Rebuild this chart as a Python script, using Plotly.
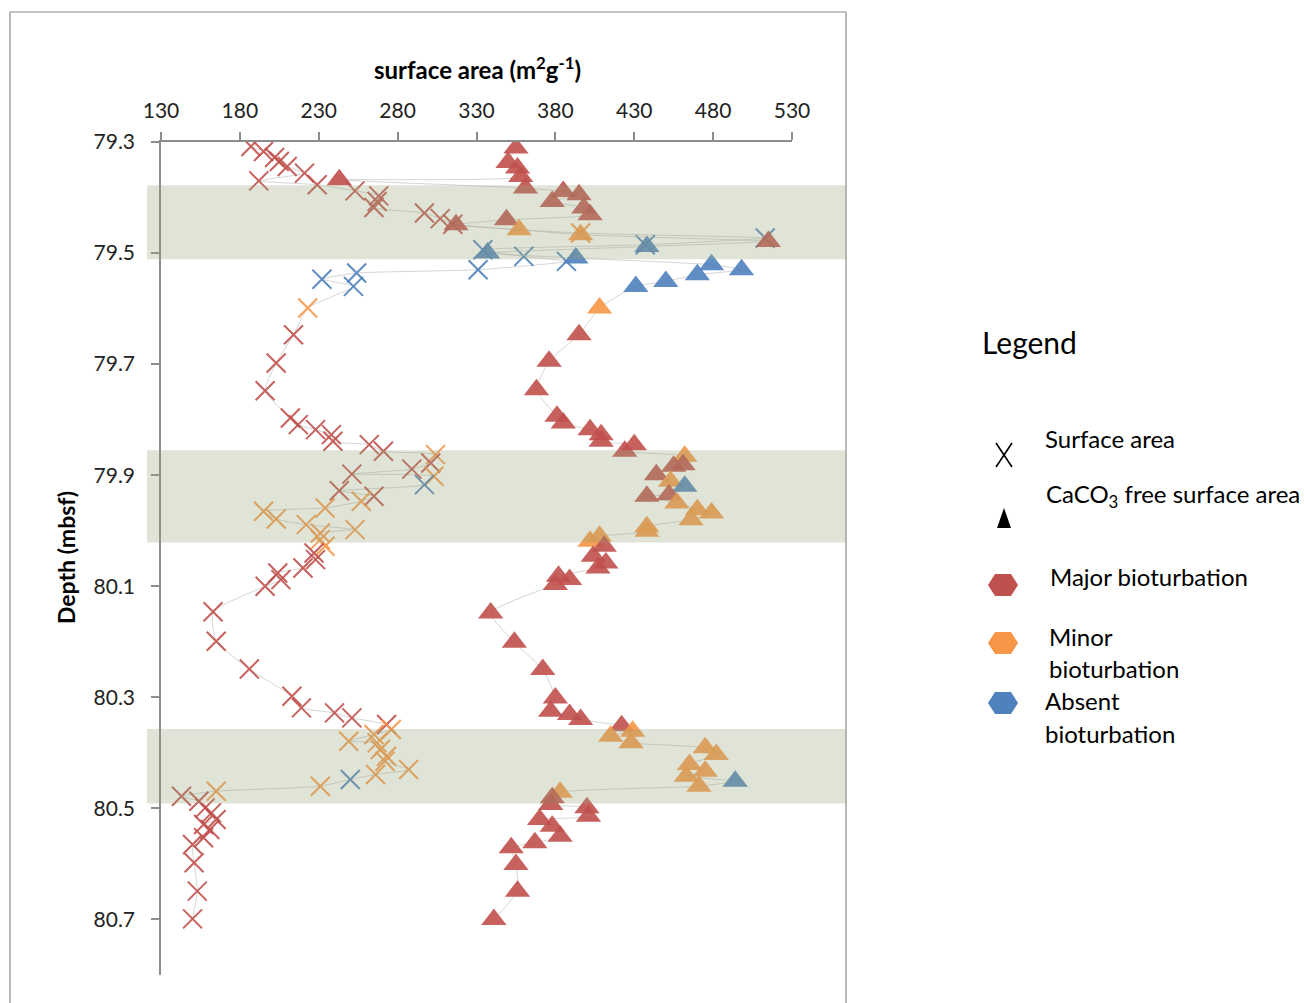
import plotly.graph_objects as go

# ---------------- data ----------------
# Surface area (X markers): depth (mbsf), value (m2/g), bioturbation class
sa_depth = [79.308, 79.317, 79.328, 79.335, 79.344, 79.356, 79.370, 79.377, 79.388, 79.397,
            79.407, 79.418, 79.428, 79.438, 79.448, 79.464, 79.473, 79.485, 79.494, 79.506,
            79.515, 79.530, 79.536, 79.547, 79.560, 79.599, 79.647, 79.698, 79.748, 79.797,
            79.809, 79.818, 79.827, 79.839, 79.845, 79.857, 79.863, 79.878, 79.889, 79.898,
            79.902, 79.917, 79.928, 79.938, 79.947, 79.959, 79.965, 79.979, 79.989, 79.998,
            80.004, 80.016, 80.028, 80.040, 80.052, 80.067, 80.076, 80.088, 80.100, 80.146,
            80.199, 80.249, 80.298, 80.319, 80.328, 80.337, 80.349, 80.358, 80.367, 80.379,
            80.382, 80.394, 80.406, 80.415, 80.430, 80.439, 80.448, 80.460, 80.469, 80.478,
            80.487, 80.499, 80.508, 80.520, 80.529, 80.538, 80.553, 80.565, 80.598, 80.649,
            80.699]
sa_value = [187, 195, 202, 205, 210, 221, 192, 229, 253, 268,
            267, 265, 297, 307, 315, 396, 513, 437, 334, 360,
            387, 331, 254, 232, 252, 223, 214, 203, 196, 212,
            217, 228, 238, 239, 262, 271, 304, 301, 289, 251,
            303, 297, 243, 265, 257, 234, 195, 203, 222, 253,
            231, 231, 234, 227, 228, 220, 204, 206, 196, 163,
            165, 186, 213, 219, 240, 251, 273, 276, 265, 249,
            267, 269, 273, 272, 287, 266, 250, 231, 165, 143,
            154, 158, 162, 165, 157, 161, 157, 150, 151, 153,
            150]
sa_cat = ["M", "M", "M", "M", "M", "M", "M", "M", "M", "M",
          "M", "M", "M", "M", "M", "m", "A", "A", "A", "A",
          "A", "A", "A", "A", "A", "m", "M", "M", "M", "M",
          "M", "M", "M", "M", "M", "M", "m", "M", "M", "M",
          "m", "A", "M", "M", "m", "m", "m", "m", "m", "m",
          "m", "m", "m", "M", "M", "M", "M", "M", "M", "M",
          "M", "M", "M", "M", "M", "M", "M", "m", "m", "m",
          "m", "m", "m", "m", "m", "m", "A", "m", "m", "M",
          "M", "M", "M", "M", "M", "M", "M", "M", "M", "M",
          "M"]

# CaCO3 free surface area (triangles)
cf_depth = [79.311, 79.337, 79.347, 79.362, 79.368, 79.383, 79.389, 79.395, 79.407, 79.419,
            79.431, 79.440, 79.449, 79.458, 79.467, 79.479, 79.488, 79.500, 79.509, 79.521,
            79.530, 79.539, 79.551, 79.560, 79.599, 79.647, 79.695, 79.746, 79.794, 79.806,
            79.818, 79.827, 79.839, 79.845, 79.857, 79.866, 79.881, 79.884, 79.899, 79.911,
            79.920, 79.935, 79.938, 79.950, 79.962, 79.968, 79.980, 79.993, 80.001, 80.010,
            80.019, 80.028, 80.046, 80.058, 80.067, 80.082, 80.088, 80.097, 80.148, 80.201,
            80.250, 80.301, 80.325, 80.331, 80.340, 80.351, 80.361, 80.370, 80.382, 80.391,
            80.403, 80.421, 80.433, 80.442, 80.451, 80.460, 80.471, 80.481, 80.493, 80.499,
            80.514, 80.520, 80.532, 80.550, 80.562, 80.571, 80.601, 80.649, 80.700]
cf_value = [355, 350, 356, 358, 243, 361, 385, 395, 378, 398,
            402, 349, 317, 357, 396, 515, 438, 337, 393, 479,
            498, 470, 450, 431, 408, 395, 376, 368, 381, 385,
            402, 409, 409, 430, 424, 462, 461, 455, 444, 453,
            462, 452, 438, 457, 470, 479, 466, 438, 438, 408,
            402, 411, 404, 412, 407, 382, 389, 380, 339, 354,
            372, 380, 377, 389, 396, 422, 429, 415, 428, 475,
            482, 465, 475, 463, 494, 471, 383, 378, 377, 400,
            401, 370, 378, 383, 367, 352, 355, 356, 341]
cf_cat = ["M", "M", "M", "M", "M", "M", "M", "M", "M", "M",
          "M", "M", "M", "m", "m", "M", "A", "A", "A", "A",
          "A", "A", "A", "A", "m", "M", "M", "M", "M", "M",
          "M", "M", "M", "M", "M", "m", "M", "M", "M", "m",
          "A", "M", "M", "m", "m", "m", "m", "m", "m", "m",
          "m", "M", "M", "M", "M", "M", "M", "M", "M", "M",
          "M", "M", "M", "M", "M", "M", "m", "m", "m", "m",
          "m", "m", "m", "m", "A", "m", "m", "M", "M", "M",
          "M", "M", "M", "M", "M", "M", "M", "M", "M"]

band_top = [79.378, 79.855, 80.357]
band_bottom = [79.511, 80.021, 80.491]

x_ticks = [130, 180, 230, 280, 330, 380, 430, 480, 530]
y_ticks = [79.3, 79.5, 79.7, 79.9, 80.1, 80.3, 80.5, 80.7]

# ---------------- styling ----------------
W, H = 1304, 1003
ML, MR, MT, MB = 161, 512, 142, 28
PW, PH = W - ML - MR, H - MT - MB

def px(x):
    return (x - ML) / PW

def py(y):
    return (H - MB - y) / PH

cat_color = {"M": "rgba(192,80,77,0.9)", "m": "rgba(247,150,70,0.9)", "A": "rgba(79,129,189,0.9)"}
FONT = "Lato, Open Sans, sans-serif"

fig = go.Figure()

sa_cols = [cat_color[c] for c in sa_cat]
cf_cols = [cat_color[c] for c in cf_cat]

fig.add_trace(go.Scatter(
    x=sa_value, y=sa_depth, mode="lines+markers",
    line=dict(color="rgba(190,190,190,0.65)", width=1, shape="spline", smoothing=0.5),
    marker=dict(symbol="x-thin-open", size=19, color=sa_cols,
                line=dict(width=2, color=sa_cols)),
    showlegend=False, hoverinfo="skip"))

fig.add_trace(go.Scatter(
    x=cf_value, y=cf_depth, mode="lines+markers",
    line=dict(color="rgba(190,190,190,0.65)", width=1, shape="spline", smoothing=0.5),
    marker=dict(symbol="triangle-up", size=22, color=cf_cols, line=dict(width=0)),
    showlegend=False, hoverinfo="skip"))

shapes = []
for t, b in zip(band_top, band_bottom):
    shapes.append(dict(type="rect", xref="paper", yref="y", x0=px(147), x1=px(846),
                       y0=t, y1=b, fillcolor="rgba(150,165,120,0.3)",
                       line=dict(width=0), layer="above"))

# chart border
shapes.append(dict(type="rect", xref="paper", yref="paper", x0=px(10), x1=px(846),
                   y0=py(1010), y1=py(12), line=dict(color="#8a8a8a", width=1.2),
                   fillcolor="rgba(0,0,0,0)", layer="below"))

# legend symbols
cx = 1004
shapes.append(dict(type="line", xref="paper", yref="paper", x0=px(cx - 8), y0=py(443),
                   x1=px(cx + 8), y1=py(467), line=dict(color="black", width=1.6)))
shapes.append(dict(type="line", xref="paper", yref="paper", x0=px(cx + 8), y0=py(443),
                   x1=px(cx - 8), y1=py(467), line=dict(color="black", width=1.6)))
shapes.append(dict(type="path", xref="paper", yref="paper",
                   path="M {},{} L {},{} L {},{} Z".format(px(cx), py(508), px(cx - 7), py(528), px(cx + 7), py(528)),
                   fillcolor="black", line=dict(width=0)))

def hexagon(xc, yc, col):
    pts = [(xc - 15, yc), (xc - 8, yc - 11), (xc + 8, yc - 11), (xc + 15, yc), (xc + 8, yc + 11), (xc - 8, yc + 11)]
    path = "M " + " L ".join("{},{}".format(px(a), py(b)) for a, b in pts) + " Z"
    return dict(type="path", xref="paper", yref="paper", path=path, fillcolor=col, line=dict(width=0))

shapes.append(hexagon(1003, 585, "#C0504D"))
shapes.append(hexagon(1003, 643, "#F79646"))
shapes.append(hexagon(1003, 703, "#4F81BD"))

annotations = [
    dict(text="<b>surface area (m<sup>2</sup>g<sup>-1</sup>)</b>", x=px(477), y=py(68), xref="paper", yref="paper",
         showarrow=False, font=dict(family=FONT, size=24, color="black"), xanchor="center", yanchor="middle"),
    dict(text="<b>Depth (mbsf)</b>", x=px(66), y=py(558), xref="paper", yref="paper", textangle=-90,
         showarrow=False, font=dict(family=FONT, size=23, color="black"), xanchor="center", yanchor="middle"),
    dict(text="Legend", x=px(980), y=py(342), xref="paper", yref="paper", showarrow=False,
         font=dict(family=FONT, size=30, color="black"), xanchor="left", yanchor="middle"),
]
leg_texts = [
    ("Surface area", 1043, 438),
    ("CaCO<sub>3</sub> free surface area", 1044, 495),
    ("Major bioturbation", 1048, 576),
    ("Minor", 1047, 636),
    ("bioturbation", 1047, 668),
    ("Absent", 1043, 700),
    ("bioturbation", 1043, 733),
]
for t, x, y in leg_texts:
    annotations.append(dict(text=t, x=px(x), y=py(y), xref="paper", yref="paper", showarrow=False,
                            font=dict(family=FONT, size=24, color="black"), xanchor="left", yanchor="middle"))

fig.update_layout(
    width=W, height=H, margin=dict(l=ML, r=MR, t=MT, b=MB),
    paper_bgcolor="white", plot_bgcolor="white",
    shapes=shapes, annotations=annotations,
    xaxis=dict(side="top", range=[130, 530], tickvals=x_ticks, ticktext=[str(v) for v in x_ticks],
               ticks="outside", ticklen=8, tickwidth=1.5, tickcolor="#8c8c8c",
               showline=True, linecolor="#8c8c8c", linewidth=1.5, showgrid=False, zeroline=False,
               tickfont=dict(family=FONT, size=21, color="#222"), ticklabelstandoff=6),
    yaxis=dict(range=[80.8, 79.3], tickvals=y_ticks, ticktext=["{:.1f}".format(v) for v in y_ticks],
               ticks="outside", ticklen=8, tickwidth=1.5, tickcolor="#8c8c8c",
               showline=True, linecolor="#8c8c8c", linewidth=1.5, showgrid=False, zeroline=False,
               tickfont=dict(family=FONT, size=21, color="#222"), ticklabelstandoff=12),
)

fig.write_html("out.html")
